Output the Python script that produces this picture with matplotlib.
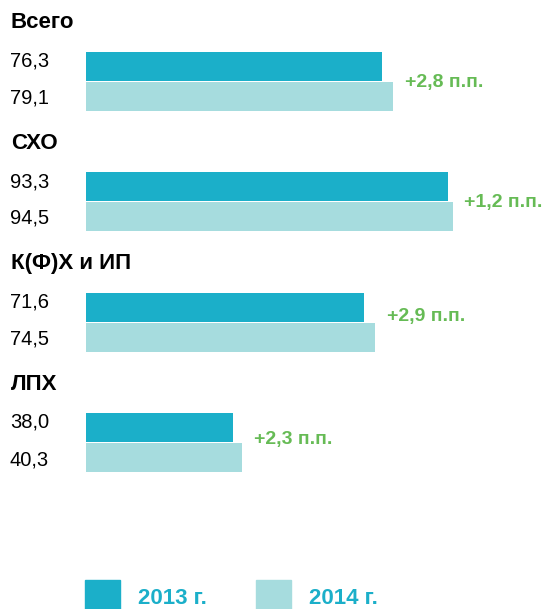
import matplotlib.pyplot as plt
from matplotlib.patches import Rectangle

plt.rcParams['font.family'] = ['Liberation Sans', 'DejaVu Sans']

groups = ['Всего', 'СХО', 'К(Ф)Х и ИП', 'ЛПХ']
v2013 = [76.3, 93.3, 71.6, 38.0]
v2014 = [79.1, 94.5, 74.5, 40.3]
labels2013 = ['76,3', '93,3', '71,6', '38,0']
labels2014 = ['79,1', '94,5', '74,5', '40,3']
deltas = ['+2,8 п.п.', '+1,2 п.п.', '+2,9 п.п.', '+2,3 п.п.']
legend_labels = ['2013 г.', '2014 г.']

c13 = '#1bafc9'
c14 = '#a6dcde'
green = '#66bb55'

W, H = 550, 609
px = 3.88  # pixels per unit
x0 = 86    # pixel where zero sits

fig = plt.figure(figsize=(W / 100, H / 100), dpi=100)
ax = fig.add_axes([0, 0, 1, 1])
ax.set_xlim(-x0 / px, (W - x0) / px)
ax.set_ylim(H, 0)
ax.axis('off')

def dx(p):
    # pixel x -> data x
    return (p - x0) / px

# vertical nudge of the green note, pixels
ann_dy = [0, 0, -6, -4]

for i, g in enumerate(groups):
    base = 21 + i * 120.5
    y1 = base + 45
    y2 = base + 75
    ax.text(dx(11), base + 2, g, fontsize=16, fontweight='bold', va='center', ha='left')
    ax.barh(y1, v2013[i], height=29, left=0, color=c13)
    ax.barh(y2, v2014[i], height=29, left=0, color=c14)
    ax.text(dx(10), y1 - 5, labels2013[i], fontsize=14.5, va='center', ha='left')
    ax.text(dx(10), y2 + 2, labels2014[i], fontsize=14.5, va='center', ha='left')
    ax.text(v2014[i] + 3, base + 61 + ann_dy[i], deltas[i], fontsize=14,
            fontweight='bold', color=green, va='center', ha='left')

# legend
for j, (lab, col) in enumerate(zip(legend_labels, [c13, c14])):
    lx = 85 + j * 171
    ax.add_patch(Rectangle((dx(lx), 580), 35 / px, 32, color=col, clip_on=False))
    ax.text(dx(lx + 53), 599, lab, fontsize=16, fontweight='bold', color=c13,
            va='center', ha='left')

fig.savefig('out.png', dpi=100)
